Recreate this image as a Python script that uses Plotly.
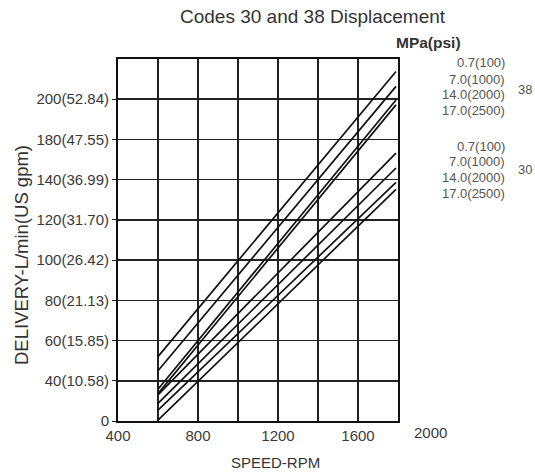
import plotly.graph_objects as go

# ---- data ----
speed_rpm = [600, 1790]
pressure_labels = ["0.7(100)", "7.0(1000)", "14.0(2000)", "17.0(2500)"]
# delivery expressed in grid steps of the (non-uniform) delivery axis
code38_start = [1.60, 1.25, 0.79, 0.68]
code38_end = [8.69, 8.32, 7.98, 7.86]
code30_start = [0.65, 0.44, 0.27, 0.02]
code30_end = [6.66, 6.29, 5.93, 5.76]
y_tick_labels = ["0", "40(10.58)", "60(15.85)", "80(21.13)", "100(26.42)",
                 "120(31.70)", "140(36.99)", "180(47.55)", "200(52.84)"]
x_tick_values = [400, 600, 800, 1000, 1200, 1400, 1600, 1800]
x_tick_labels = ["400", "", "800", "", "1200", "", "1600", ""]
extra_x_label = 2000

FONT = "Liberation Sans, Arial, sans-serif"
TXT = "#3a3a3a"

fig = go.Figure()
for s, e in zip(code38_start, code38_end):
    fig.add_trace(go.Scatter(x=speed_rpm, y=[s, e], mode="lines",
                             line=dict(color="#111", width=1.7),
                             showlegend=False, hoverinfo="skip"))
for s, e in zip(code30_start, code30_end):
    fig.add_trace(go.Scatter(x=speed_rpm, y=[s, e], mode="lines",
                             line=dict(color="#111", width=1.7),
                             showlegend=False, hoverinfo="skip"))

W, H = 535, 475
L, R, T, B = 118, 398, 59, 421


def px(xp):
    return (xp - L) / (R - L)


def py(yp):
    return (B - yp) / (B - T)


ann = []
ann.append(dict(text="Codes 30 and 38 Displacement", x=px(313), y=py(17),
                font=dict(size=19, color="#333")))
ann.append(dict(text="<b>MPa(psi)</b>", x=px(428), y=py(43),
                font=dict(size=15.5, color="#333")))
ann.append(dict(text="SPEED-RPM", x=px(275), y=py(462),
                font=dict(size=15, color="#333")))
ann.append(dict(text="DELIVERY-L/min(US gpm)", x=px(22), y=py(255), textangle=-90,
                font=dict(size=18.5, color="#333")))
x2000 = (extra_x_label - 400) / (1800 - 400)
ann.append(dict(text=str(extra_x_label), x=x2000 - 8 / (R - L), y=py(433),
                font=dict(size=15, color=TXT)))
ys38 = [62.7, 79.3, 95, 111]
ys30 = [146, 161, 177, 193]
for lab, yv in zip(pressure_labels, ys38):
    ann.append(dict(text=lab, x=px(507), y=py(yv), xanchor="right",
                    font=dict(size=13, color="#555")))
for lab, yv in zip(pressure_labels, ys30):
    ann.append(dict(text=lab, x=px(507), y=py(yv), xanchor="right",
                    font=dict(size=13, color="#555")))
ann.append(dict(text="38", x=px(525), y=py(89), font=dict(size=13, color="#555")))
ann.append(dict(text="30", x=px(525), y=py(169), font=dict(size=13, color="#555")))
for a in ann:
    a.setdefault("xref", "paper")
    a.setdefault("yref", "paper")
    a.setdefault("showarrow", False)
    a.setdefault("xanchor", "center")
    a.setdefault("yanchor", "middle")

fig.update_layout(
    width=W, height=H,
    margin=dict(l=L, r=W - R, t=T, b=H - B, pad=0),
    paper_bgcolor="white", plot_bgcolor="white",
    font=dict(family=FONT, color=TXT),
    annotations=ann,
    xaxis=dict(range=[400, 1800], tickvals=x_tick_values, ticktext=x_tick_labels,
               showgrid=True, gridcolor="#222", gridwidth=1.5,
               showline=True, linecolor="#111", linewidth=2, mirror=True,
               ticks="", tickfont=dict(size=15, color=TXT), zeroline=False),
    yaxis=dict(range=[0, 9], tickvals=list(range(len(y_tick_labels))),
               ticktext=y_tick_labels,
               showgrid=True, gridcolor="#222", gridwidth=1.5,
               showline=True, linecolor="#111", linewidth=2, mirror=True,
               ticks="outside", ticklen=4, tickcolor="#222",
               tickfont=dict(size=15, color=TXT), zeroline=False),
)

fig.write_html("out.html",
               config={"displayModeBar": False, "staticPlot": True},
               post_script="document.body.style.margin='0px';document.body.style.overflow='hidden';")
